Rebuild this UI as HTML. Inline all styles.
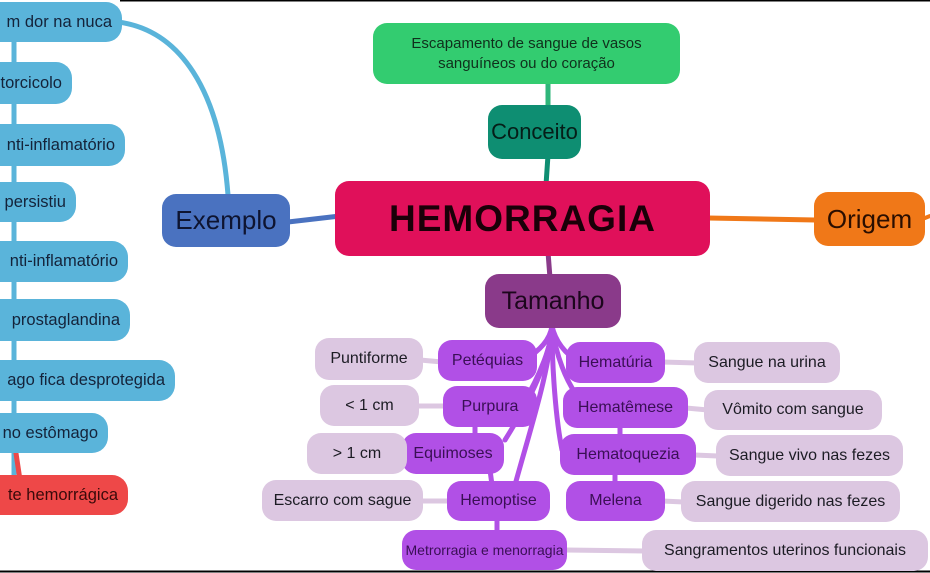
<!DOCTYPE html>
<html><head><meta charset="utf-8"><style>
body{margin:0;width:930px;height:573px;background:#fff;position:relative;overflow:hidden;font-family:"Liberation Sans","DejaVu Sans",sans-serif}
.n{position:absolute;display:flex;align-items:center;justify-content:center;box-sizing:border-box;white-space:nowrap;border-radius:14px}
.b{background:#5ab4da;color:#14233a;font-size:16.5px;justify-content:flex-end;padding-right:10px;border-radius:16px}
.p{background:#b150e6;color:#3a0f55;font-size:16px;border-radius:14px}
.l{background:#dcc7e1;color:#1c1c24;font-size:16px;border-radius:14px}
svg{position:absolute;left:0;top:0}
</style></head><body>
<svg width="930" height="573">
<g fill="none" stroke-linecap="round">
<path d="M14 30 L14 500" stroke="#5ab4da" stroke-width="5"/>
<path d="M14 440 L20 480" stroke="#ee4848" stroke-width="5"/>
<path d="M118 22 C180 30 220 90 228 195" stroke="#5ab4da" stroke-width="5"/>
<path d="M288 222 L340 216" stroke="#4a72c0" stroke-width="5"/>
<path d="M708 218 L815 220" stroke="#f07818" stroke-width="5"/>
<path d="M925 218 L930 216" stroke="#f07818" stroke-width="4"/>
<path d="M548 80 L548 110" stroke="#2fb67a" stroke-width="5"/>
<path d="M548 155 L546 185" stroke="#0e8e72" stroke-width="5"/>
<path d="M548 252 L550 278" stroke="#8a3a8a" stroke-width="5"/>
<g stroke="#b150e6" stroke-width="5">
<path d="M552 326 C550 340 540 350 525 360"/>
<path d="M552 326 C552 345 540 375 525 400"/>
<path d="M552 326 C550 360 530 400 505 440"/>
<path d="M552 326 C550 370 530 430 515 485"/>
<path d="M552 326 C555 340 565 355 580 362"/>
<path d="M552 326 C555 350 565 385 585 405"/>
<path d="M552 326 C552 370 556 420 562 450"/>
<path d="M490 470 L492 485"/><path d="M475 425 L475 440"/>
<path d="M620 425 L620 440"/><path d="M615 472 L615 485"/>
<path d="M497 520 L497 535"/>
</g>
<g stroke="#dcc7e1" stroke-width="5">
<path d="M420 360 L442 362"/><path d="M415 406 L446 406"/><path d="M405 453 L425 453"/><path d="M420 501 L450 501"/>
<path d="M662 362 L697 363"/><path d="M686 408 L708 410"/><path d="M694 455 L718 456"/><path d="M662 501 L684 502"/><path d="M565 550 L645 551"/>
</g>
</g>
<line x1="120" y1="0.5" x2="930" y2="0.5" stroke="#000" stroke-width="2"/>
<line x1="0" y1="571.5" x2="930" y2="571.5" stroke="#000" stroke-width="2"/>
</svg>

<div class="n b" style="left:-40px;top:2px;width:162px;height:40px">m dor na nuca</div>
<div class="n b" style="left:-40px;top:62px;width:112px;height:42px">torcicolo</div>
<div class="n b" style="left:-40px;top:124px;width:165px;height:42px">nti-inflamatório</div>
<div class="n b" style="left:-40px;top:182px;width:116px;height:40px">persistiu</div>
<div class="n b" style="left:-40px;top:241px;width:168px;height:41px">nti-inflamatório</div>
<div class="n b" style="left:-40px;top:299px;width:170px;height:42px">prostaglandina</div>
<div class="n b" style="left:-40px;top:360px;width:215px;height:41px">ago fica desprotegida</div>
<div class="n b" style="left:-40px;top:413px;width:148px;height:40px">no estômago</div>
<div class="n b" style="left:-40px;top:475px;width:168px;height:40px;background:#ee4848;color:#3a0a0a">te hemorrágica</div>

<div class="n" style="left:162px;top:194px;width:128px;height:53px;background:#4a72c0;color:#0e1430;font-size:26px">Exemplo</div>
<div class="n" style="left:335px;top:181px;width:375px;height:75px;background:#e0105a;color:#1a0008;font-size:37px;font-weight:bold;letter-spacing:1px">HEMORRAGIA</div>
<div class="n" style="left:814px;top:192px;width:111px;height:54px;background:#f07818;color:#2a0e00;font-size:26px">Origem</div>
<div class="n" style="left:373px;top:23px;width:307px;height:61px;background:#33cc70;color:#10301c;font-size:15px;text-align:center;line-height:20px;white-space:normal">Escapamento de sangue de vasos<br>sanguíneos ou do coração</div>
<div class="n" style="left:488px;top:105px;width:93px;height:54px;background:#0e8e72;color:#051e18;font-size:22px">Conceito</div>
<div class="n" style="left:485px;top:274px;width:136px;height:54px;background:#8a3a8a;color:#1c061c;font-size:25px">Tamanho</div>

<div class="n p" style="left:438px;top:340px;width:99px;height:41px">Petéquias</div>
<div class="n p" style="left:443px;top:386px;width:94px;height:41px">Purpura</div>
<div class="n p" style="left:402px;top:433px;width:102px;height:41px">Equimoses</div>
<div class="n p" style="left:447px;top:481px;width:103px;height:40px">Hemoptise</div>
<div class="n p" style="left:402px;top:530px;width:165px;height:40px;font-size:14px">Metrorragia e menorragia</div>
<div class="n p" style="left:566px;top:342px;width:99px;height:41px">Hematúria</div>
<div class="n p" style="left:563px;top:387px;width:125px;height:41px">Hematêmese</div>
<div class="n p" style="left:560px;top:434px;width:136px;height:41px">Hematoquezia</div>
<div class="n p" style="left:566px;top:481px;width:99px;height:40px">Melena</div>

<div class="n l" style="left:315px;top:338px;width:108px;height:42px">Puntiforme</div>
<div class="n l" style="left:320px;top:385px;width:99px;height:41px">&lt; 1 cm</div>
<div class="n l" style="left:307px;top:433px;width:100px;height:41px">&gt; 1 cm</div>
<div class="n l" style="left:262px;top:480px;width:161px;height:41px">Escarro com sague</div>
<div class="n l" style="left:694px;top:342px;width:146px;height:41px">Sangue na urina</div>
<div class="n l" style="left:704px;top:390px;width:178px;height:40px">Vômito com sangue</div>
<div class="n l" style="left:716px;top:435px;width:187px;height:41px">Sangue vivo nas fezes</div>
<div class="n l" style="left:681px;top:481px;width:219px;height:41px">Sangue digerido nas fezes</div>
<div class="n l" style="left:642px;top:530px;width:286px;height:41px">Sangramentos uterinos funcionais</div>
</body></html>
